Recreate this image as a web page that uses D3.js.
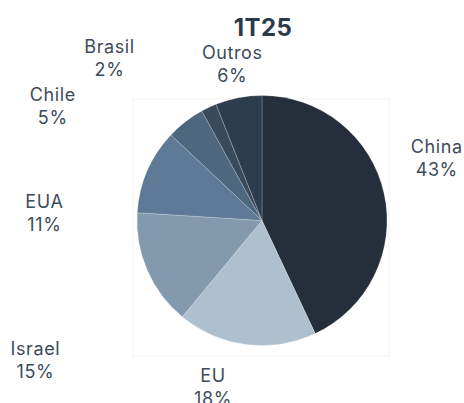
<!DOCTYPE html>
<html lang="pt">
<head>
    <meta charset="UTF-8">
    <title>1T25</title>
    <script src="https://d3js.org/d3.v7.min.js"></script>
    <style>
        body { margin: 0; background: #fff; font-family: Inter, 'Open Sans', sans-serif; }
    </style>
</head>
<body>
    <script>
        // Data
        const categories = ["China", "EU", "Israel", "EUA", "Chile", "Brasil", "Outros"];
        const shares = [43, 18, 15, 11, 5, 2, 6];
        const colors = ["#252f3b", "#aebfcd", "#8399ae", "#5e7a96", "#4d677f", "#394a5c", "#2e3d4e"];

        // Layout
        const width = 464, height = 403;
        const cx = 262, cy = 220.5, radius = 125;
        const labelRadius = 175;
        // manual nudges from the default label spot (best-fit style placement)
        const nudge = {
            China: [4, -24], EU: [-27, -7], Israel: [-66, 70], EUA: [-57, 62],
            Chile: [-102, 24], Brasil: [-78, -4], Outros: [3, 15]
        };

        const svg = d3.select("body").append("svg")
            .attr("width", width)
            .attr("height", height);

        // faint plot area frame
        svg.append("rect")
            .attr("x", 133).attr("y", 99)
            .attr("width", 256).attr("height", 257)
            .attr("fill", "none")
            .attr("stroke", "#f9f9f9")
            .attr("stroke-width", 2);

        svg.append("text")
            .attr("x", 263)
            .attr("y", 36)
            .attr("text-anchor", "middle")
            .attr("font-size", 24)
            .attr("font-weight", 700)
            .attr("letter-spacing", 0.4)
            .attr("fill", "#2b3a4a")
            .text("1T25");

        const data = categories.map((c, i) => ({ name: c, value: shares[i], color: colors[i] }));

        const pie = d3.pie().sort(null).value(d => d.value);
        const arcs = pie(data);

        const arc = d3.arc().innerRadius(0).outerRadius(radius);
        const labelArc = d3.arc().innerRadius(labelRadius).outerRadius(labelRadius);

        const g = svg.append("g").attr("transform", `translate(${cx},${cy})`);

        g.selectAll("path")
            .data(arcs)
            .enter().append("path")
            .attr("d", arc)
            .attr("fill", d => d.data.color)
            .attr("stroke", "rgba(255,255,255,0.35)")
            .attr("stroke-width", 0.6);

        const labels = g.selectAll("g.label")
            .data(arcs)
            .enter().append("g")
            .attr("class", "label")
            .attr("transform", d => {
                const [x, y] = labelArc.centroid(d);
                const n = nudge[d.data.name];
                return `translate(${x + n[0]},${y + n[1]})`;
            });

        labels.append("text")
            .attr("text-anchor", "middle")
            .attr("y", -5)
            .attr("font-size", 18)
            .attr("letter-spacing", 0.6)
            .attr("fill", "#3d4b5c")
            .text(d => d.data.name);

        labels.append("text")
            .attr("text-anchor", "middle")
            .attr("y", 18)
            .attr("font-size", 18)
            .attr("letter-spacing", 0.6)
            .attr("fill", "#3d4b5c")
            .text(d => d.data.value + "%");
    </script>
</body>
</html>
